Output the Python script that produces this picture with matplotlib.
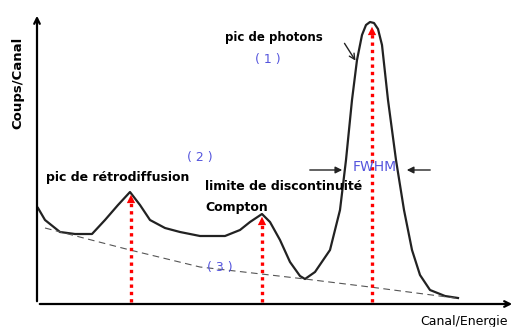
import matplotlib
matplotlib.use("Agg")
import matplotlib.pyplot as plt

# spectre schématique (canal, coups)
canal = [1, 8, 23, 38, 55, 68, 81, 93, 103, 113, 128, 143, 163, 188, 203, 213,
         225, 233, 243, 253, 263, 268, 278, 293, 303, 309, 315, 320, 325, 329,
         333, 337, 341, 345, 351, 359, 367, 375, 383, 393, 408, 421]
coups = [95, 83, 71, 69, 69, 83, 98, 111, 98, 83, 75, 71, 67, 67, 73, 81,
         89, 81, 63, 41, 27, 24, 31, 53, 93, 143, 203, 243, 268, 278,
         281, 280, 274, 258, 203, 143, 93, 53, 28, 13, 7, 5]

# fond Compton (3)
fond_canal = [8, 93, 163, 268, 333, 418]
fond_coups = [75, 53, 36, 24, 16, 5]

# positions des pics (flèches rouges)
pics_canal = [94, 225, 335]
pics_coups = [111, 89, 279]

BLUE = "#5555dd"

fig = plt.figure(figsize=(5.16, 3.27), dpi=100)
ax = fig.add_axes([0, 0, 1, 1])
ax.set_xlim(-37, 479)
ax.set_ylim(-24, 303)
ax.axis("off")

ax.plot(canal, coups, color="#222222", lw=1.6)
ax.plot(fond_canal, fond_coups, color="#555555", lw=0.8, dashes=(6, 4))

for x, y in zip(pics_canal, pics_coups):
    ax.plot([x, x], [1, y - 8], color="red", lw=2.4, ls=(0, (1, 1.2)))
    ax.annotate("", xy=(x, y), xytext=(x, y - 12),
                arrowprops=dict(arrowstyle="-|>", color="red", lw=0,
                                mutation_scale=15))

# axes
ax.annotate("", xy=(0, 290), xytext=(0, -1),
            arrowprops=dict(arrowstyle="->", color="black", lw=1.6))
ax.annotate("", xy=(478, -1), xytext=(0, -1),
            arrowprops=dict(arrowstyle="->", color="black", lw=1.6))

ax.text(-19, 220, "Coups/Canal", rotation=90, ha="center", va="center",
        fontsize=9.5, fontweight="bold")
ax.text(383, -19, "Canal/Energie", ha="left", va="center", fontsize=9)

ax.text(188, 265, "pic de photons", ha="left", va="center", fontsize=8.5,
        fontweight="bold")
ax.annotate("", xy=(320, 240), xytext=(306, 262),
            arrowprops=dict(arrowstyle="->", color="#222222", lw=1.0))
ax.text(231, 243, "( 1 )", ha="center", va="center", color=BLUE, fontsize=9)
ax.text(163, 145, "( 2 )", ha="center", va="center", color=BLUE, fontsize=9)
ax.text(183, 36, "( 3 )", ha="center", va="center", color=BLUE, fontsize=9)

ax.text(9, 125, "pic de rétrodiffusion", ha="left", va="center", fontsize=9,
        fontweight="bold")
ax.text(168, 116, "limite de discontinuité", ha="left", va="center",
        fontsize=9, fontweight="bold")
ax.text(168, 95, "Compton", ha="left", va="center", fontsize=9,
        fontweight="bold")

ax.text(338, 136, "FWHM", ha="center", va="center", color=BLUE, fontsize=10)
ax.annotate("", xy=(308, 133), xytext=(270, 133),
            arrowprops=dict(arrowstyle="-|>", color="#222222", lw=1.0))
ax.annotate("", xy=(367, 133), xytext=(396, 133),
            arrowprops=dict(arrowstyle="-|>", color="#222222", lw=1.0))

fig.savefig("out.png", dpi=100, facecolor="white")
